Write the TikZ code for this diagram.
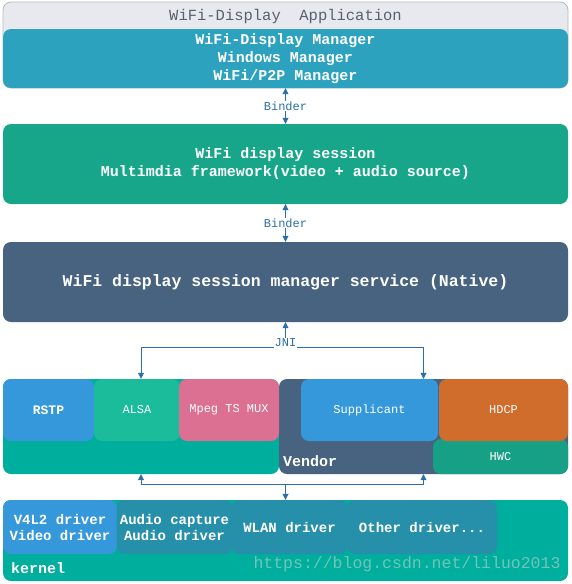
\documentclass[tikz,border=0pt]{standalone}
\usepackage{fontspec}
\setmainfont{Liberation Mono}
\usetikzlibrary{arrows.meta}
\definecolor{appgray}{HTML}{E8E9EE}
\definecolor{appline}{HTML}{B4B8C0}
\definecolor{apptext}{HTML}{5A6070}
\definecolor{mgrblue}{HTML}{2CA2BE}
\definecolor{sessgreen}{HTML}{17A689}
\definecolor{slate}{HTML}{47637F}
\definecolor{teal}{HTML}{00AE9D}
\definecolor{skyblue}{HTML}{3598DB}
\definecolor{mint}{HTML}{1ABC9C}
\definecolor{pink}{HTML}{DB7093}
\definecolor{orange}{HTML}{D06C2C}
\definecolor{hwcgreen}{HTML}{16A085}
\definecolor{drvblue}{HTML}{268FAA}
\definecolor{arrowblue}{HTML}{2C6FA8}
\definecolor{mark}{HTML}{72C4BA}
\tikzset{
  blk/.style={rounded corners=8pt, inner sep=0pt, align=center, text=white},
  layer/.style={blk, font=\fontsize{15}{18}\selectfont\bfseries, minimum width=565pt},
  part/.style={blk, font=\fontsize{12}{14}\selectfont},
  drv/.style={blk, fill=drvblue, font=\fontsize{14}{16}\selectfont\bfseries, minimum height=54pt},
  arr/.style={-{Triangle[width=6pt,length=6pt]}, draw=arrowblue, line width=0.8pt},
  biarr/.style={arr, {Triangle[width=6pt,length=6pt]}-{Triangle[width=6pt,length=6pt]}},
  lbl/.style={fill=white, inner sep=1pt, text=arrowblue, font=\fontsize{12}{12}\selectfont}
}
\begin{document}
\begin{tikzpicture}[x=1pt, y=-1pt]
  \useasboundingbox (0,0) rectangle (571,584);
  % application layer
  \node[blk, fill=appgray, draw=appline, line width=0.8pt, minimum width=565pt, minimum height=86pt] (app) at (285.5,45) {};
  \node[text=apptext, font=\fontsize{15.5}{18}\selectfont] (apptitle) at (285.5,16) {WiFi-Display~~Application};
  \node[layer, fill=mgrblue, minimum height=59pt] (mgr) at (285.5,58.5)
    {WiFi-Display Manager\\Windows Manager\\WiFi/P2P Manager};
  \node[layer, fill=sessgreen, minimum height=80pt] (sess) at (285.5,164)
    {WiFi display session\\Multimdia framework(video + audio source)};
  \node[layer, fill=slate, minimum height=80pt, font=\fontsize{16.5}{18}\selectfont\bfseries] (svc) at (285.5,282)
    {WiFi display session manager service (Native)};
  \draw[biarr] (mgr) -- node[lbl] (binderA) {Binder} (sess);
  \draw[biarr] (sess) -- node[lbl] (binderB) {Binder} (svc);

  % native layer
  \node[blk, fill=teal, minimum width=276pt, minimum height=95pt] (media) at (141,426.5) {};
  \node[blk, fill=slate, minimum width=289pt, minimum height=95pt] (vendor) at (423.5,426.5) {};
  \node[part, fill=skyblue, minimum width=91pt, minimum height=62pt, font=\fontsize{13}{14}\selectfont\bfseries] (rstp) at (48.5,410) {RSTP};
  \node[part, fill=mint, minimum width=86pt, minimum height=62pt] (alsa) at (137,410) {ALSA};
  \node[part, fill=pink, minimum width=100pt, minimum height=62pt] (mux) at (229,410) {Mpeg TS MUX};
  \node[part, fill=skyblue, minimum width=137pt, minimum height=62pt] (supp) at (369.5,410) {Supplicant};
  \node[part, fill=hwcgreen, minimum width=135pt, minimum height=35pt] (hwc) at (500.5,456.5) {HWC};
  \node[part, fill=orange, minimum width=129pt, minimum height=62pt] (hdcp) at (503.5,410) {HDCP};
  \node[anchor=base west, text=white, font=\fontsize{15}{18}\selectfont\bfseries, inner sep=0pt] (vendortxt) at (283,466) {Vendor};

  % JNI
  \coordinate (jniM) at (285.5,347);
  \coordinate (jniL) at (media.north |- jniM);
  \coordinate (jniR) at (vendor.north |- jniM);
  \draw[arr] (jniM) -- (svc.south);
  \draw[arr] (jniM) -- (jniL) -- (media.north);
  \draw[arr] (jniM) -- (jniR) -- (vendor.north);
  \node[lbl, inner sep=0.5pt] (jni) at (285.5,343) {JNI};

  % kernel layer
  \node[blk, fill=teal, minimum width=565pt, minimum height=81pt] (kernel) at (285.5,540.5) {};
  \node[drv, fill=skyblue, minimum width=114pt] (v4l2) at (60,527) {V4L2 driver\\Video driver};
  \node[drv, minimum width=116pt] (audio) at (174.5,527) {Audio capture\\Audio driver};
  \node[drv, minimum width=116pt] (wlan) at (289.5,527) {WLAN driver};
  \node[drv, minimum width=150pt] (other) at (422,527) {Other driver...};
  \node[anchor=base west, text=white, font=\fontsize{15}{18}\selectfont\bfseries, inner sep=0pt] (kerneltxt) at (11,573) {kernel};
  \node[text=mark, font=\fontsize{16.5}{18}\selectfont, inner sep=0pt] (watermark) at (407,564) {https://blog.csdn.net/liluo2013};

  \coordinate (drvM) at (285.5,484);
  \coordinate (drvL) at (media.south |- drvM);
  \coordinate (drvR) at (vendor.south |- drvM);
  \draw[arr] (drvL) -- (media.south);
  \draw[arr] (drvR) -- (vendor.south);
  \draw[draw=arrowblue, line width=0.8pt] (drvL) -- (drvR);
  \draw[arr] (drvM) -- (kernel.north);
\end{tikzpicture}
\end{document}
